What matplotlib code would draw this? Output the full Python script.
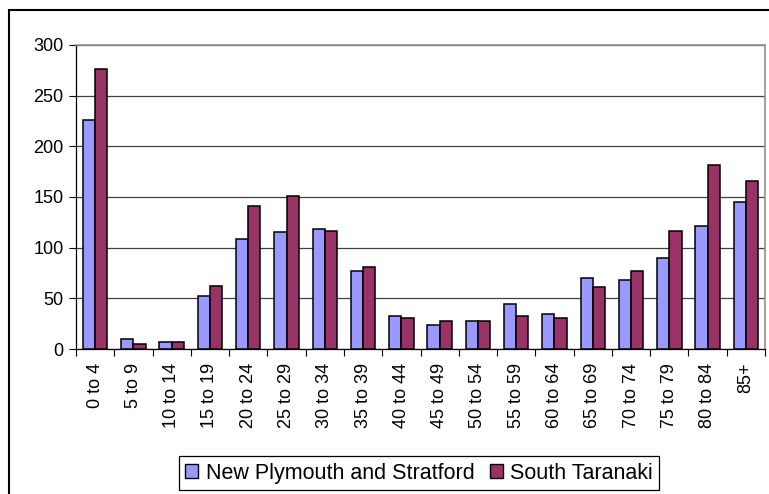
import matplotlib
matplotlib.use('Agg')
import matplotlib.pyplot as plt
from matplotlib.patches import Rectangle, Patch
import numpy as np

age_groups = ['0 to 4', '5 to 9', '10 to 14', '15 to 19', '20 to 24', '25 to 29',
              '30 to 34', '35 to 39', '40 to 44', '45 to 49', '50 to 54', '55 to 59',
              '60 to 64', '65 to 69', '70 to 74', '75 to 79', '80 to 84', '85+']
new_plymouth = [226, 10, 7, 52, 109, 115, 118, 77, 33, 24, 28, 44, 35, 70, 68, 90, 121, 145]
south_taranaki = [276, 5, 7, 62, 141, 151, 116, 81, 31, 28, 28, 33, 31, 61, 77, 116, 182, 166]
series_names = ['New Plymouth and Stratford', 'South Taranaki']

blue = '#9999FF'
maroon = '#993366'

plt.rcParams['font.family'] = ['Liberation Sans', 'DejaVu Sans']
plt.rcParams['font.size'] = 13

fig = plt.figure(figsize=(7.69, 4.94), dpi=100)
ax = fig.add_axes([76 / 769, 1 - 349 / 494, 689 / 769, 304 / 494])

x = np.arange(len(age_groups))
w = 0.32
ax.bar(x - w / 2, new_plymouth, w, color=blue, edgecolor='black', linewidth=1.1, zorder=3)
ax.bar(x + w / 2, south_taranaki, w, color=maroon, edgecolor='black', linewidth=1.1, zorder=3)

ax.set_xlim(-0.5, len(age_groups) - 0.5)
ax.set_ylim(0, 300)
ax.set_yticks(range(0, 301, 50))
ax.yaxis.grid(True, color='#404040', linewidth=0.9, zorder=0)

ax.set_xticks(x)
ax.set_xticklabels(age_groups, rotation=90)
ax.set_xticks(np.arange(-0.5, len(age_groups), 1), minor=True)
ax.tick_params(axis='x', which='major', length=0, pad=10)
ax.tick_params(axis='x', which='minor', length=5, width=0.8)
ax.tick_params(axis='y', length=5, width=0.8, pad=4)

for side in ['top', 'right']:
    ax.spines[side].set_color('#909090')
    ax.spines[side].set_linewidth(1.2)
for side in ['left', 'bottom']:
    ax.spines[side].set_color('black')
    ax.spines[side].set_linewidth(0.9)

handles = [Patch(facecolor=blue, edgecolor='black', linewidth=1),
           Patch(facecolor=maroon, edgecolor='black', linewidth=1)]
leg = fig.legend(handles, series_names, loc='center', bbox_to_anchor=(0.545, 0.042),
                 ncol=2, fancybox=False, framealpha=1, edgecolor='black',
                 handlelength=0.6, handleheight=0.6, handletextpad=0.35,
                 columnspacing=0.7, borderpad=0.3, borderaxespad=0, fontsize=15.5)
leg.get_frame().set_linewidth(0.9)

# outer chart border (only left and top visible in the crop)
fig.patches.append(Rectangle((9 / 769, -0.1), 1.0, 1 - 10 / 494 + 0.1,
                             transform=fig.transFigure, fill=False,
                             edgecolor='black', linewidth=1.5))

fig.savefig('out.png', dpi=100)
